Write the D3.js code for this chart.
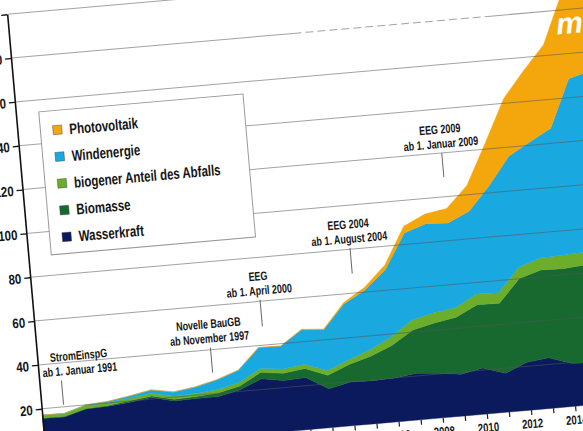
<!DOCTYPE html>
<html><head><meta charset="utf-8">
<script src="https://cdn.jsdelivr.net/npm/d3@7"></script>
<style>
html,body{margin:0;padding:0;background:#fff;}
svg{display:block;overflow:hidden;}
text{font-family:"Liberation Sans",Arial,sans-serif;font-weight:bold;fill:#151515;}
</style></head><body>
<svg id="chart" width="583" height="431"></svg>
<script>
// ---- data (TWh) ----
const years          = [1990,1991,1992,1993,1994,1995,1996,1997,1998,1999,2000,2001,2002,2003,2004,2005,2006,2007,2008,2009,2010,2011,2012,2013,2014,2015,2016];
const wasserkraft    = [15.6,15.4,18.1,18.5,19.5,20.7,18.3,18.5,18.5,20.7,24.9,23.2,23.7,17.7,19.9,19.6,20.0,21.2,20.4,19.0,21.0,17.7,21.8,23.0,19.6,19.0,20.5];
const biomasse       = [0.2,0.3,0.3,0.4,0.6,0.7,0.8,0.9,1.6,1.8,2.9,3.3,4.1,6.1,8.0,11.1,14.8,19.8,22.9,26.0,28.9,31.9,38.3,40.1,43.2,44.6,45.0];
const biogenerAbfall = [1.2,1.2,1.3,1.2,1.3,1.3,1.3,1.4,1.6,1.7,1.8,1.9,1.9,2.2,2.1,3.0,3.8,4.5,4.7,4.4,4.8,4.8,5.0,5.4,6.1,5.8,5.9];
const windenergie    = [0.1,0.1,0.3,0.6,0.9,1.5,2.0,3.0,4.5,5.5,9.5,10.5,15.8,18.7,25.5,27.2,30.7,39.7,40.6,38.6,37.8,48.9,50.7,53.0,58.0,79.2,79.9];
const photovoltaik   = [0,0,0,0,0,0,0,0,0,0,0.1,0.1,0.2,0.3,0.6,1.3,2.2,3.1,4.4,6.6,11.7,19.6,26.4,32.5,38.0,38.7,38.1];

const seriesNames  = ["Wasserkraft","Biomasse","biogener Anteil des Abfalls","Windenergie","Photovoltaik"];
const seriesValues = [wasserkraft, biomasse, biogenerAbfall, windenergie, photovoltaik];
const seriesColors = ["#0b1a5c","#17692f","#6cad2c","#1aa8e1","#f4a70c"];

const yTicks     = [20,40,60,80,100,120,140,160,180,200];
const yearTicks  = d3.range(1990, 2017);
const yearLabels = [1990,1992,1994,1996,1998,2000,2002,2004,2006,2008,2010,2012,2014,2016];

const annotationDates = [1991.0, 1997.83, 2000.25, 2004.5, 2009.0];
const annotationLine1 = ["StromEinspG","Novelle BauGB","EEG","EEG 2004","EEG 2009"];
const annotationLine2 = ["ab 1. Januar 1991","ab November 1997","ab 1. April 2000","ab 1. August 2004","ab 1. Januar 2009"];
const annotationFrom  = [21, 29.5, 48.5, 69, 109];
const annotationTo    = [32, 41, 60.7, 80.6, 120];

// ---- layout ----
const svg = d3.select("#chart");
const root = svg.append("g").attr("transform","translate(45.5,452.6) rotate(-5)");

const pxYear = 22.15, pxTWh = 2.2;
const x = d3.scaleLinear().domain([1990, 2016]).range([0, 26*pxYear]);
const y = d3.scaleLinear().domain([0, 200]).range([0, -200*pxTWh]);

// condensed-looking text: real text, compressed horizontally
function ctext(parent, tx, ty, str, size, anchor, sx){
  return parent.append("text")
    .attr("transform", `translate(${tx},${ty}) scale(${sx},1)`)
    .attr("text-anchor", anchor || "start")
    .style("font-size", size + "px")
    .text(str);
}

const table = years.map((yr,i)=>{
  const row = {year: yr};
  seriesNames.forEach((n,k)=> row[n] = seriesValues[k][i]);
  return row;
});
const stacked = d3.stack().keys(seriesNames)(table);
const area = d3.area().x(d=>x(d.data.year)).y0(d=>y(d[0])).y1(d=>y(d[1]));

root.append("g").selectAll("path").data(stacked).join("path")
  .attr("d", area)
  .attr("fill", (d,i)=>seriesColors[i])
  .attr("stroke", (d,i)=>seriesColors[i])
  .attr("stroke-width", 0.4);

// white title fragment over the PV area
root.append("text").attr("x", 546).attr("y", -372)
  .style("font-style","italic").style("font-size","30px").style("fill","#fff")
  .text("m");

// gridlines (on top of areas)
const gridEnd = 2017;
const dashFrom = 2002.8, dashTo = 2011.6;
const grid = root.append("g").attr("stroke","#555").attr("stroke-opacity",0.55).attr("stroke-width",1);
yTicks.forEach(v=>{
  if (v === 180) {
    grid.append("line").attr("x1",x(1990)).attr("x2",x(dashFrom)).attr("y1",y(v)).attr("y2",y(v));
    grid.append("line").attr("x1",x(dashFrom)).attr("x2",x(dashTo)).attr("y1",y(v)).attr("y2",y(v)).attr("stroke-dasharray","8,4");
    grid.append("line").attr("x1",x(dashTo)).attr("x2",x(gridEnd)).attr("y1",y(v)).attr("y2",y(v));
  } else {
    grid.append("line").attr("x1",x(1990)).attr("x2",x(gridEnd)).attr("y1",y(v)).attr("y2",y(v));
  }
});

// y axis
const yAxis = root.append("g")
  .call(d3.axisLeft(y).tickValues(yTicks).tickSize(6).tickPadding(3).tickSizeOuter(0));
yAxis.select(".domain").attr("stroke","#111").attr("stroke-width",1.6);
yAxis.selectAll(".tick line").attr("stroke","#111").attr("stroke-width",1.3);
yAxis.selectAll(".tick text")
  .attr("x", null).attr("dy", null)
  .attr("transform", `translate(-9,5) scale(0.82,1)`)
  .style("font-size","14px").style("font-family",null);

// x axis
const xAxis = root.append("g")
  .call(d3.axisBottom(x).tickValues(yearTicks).tickSize(5).tickPadding(4)
    .tickFormat(d=> yearLabels.includes(d) ? String(d) : ""));
xAxis.select(".domain").remove();
xAxis.selectAll(".tick line").attr("stroke","#222").attr("stroke-width",1.2);
xAxis.selectAll(".tick text")
  .attr("transform", `scale(0.76,1)`)
  .style("font-size","12.5px").style("font-family",null);

// annotations
const AS = 0.73;
const ann = root.append("g");
annotationDates.forEach((dt,i)=>{
  const lx = x(dt);
  ann.append("line").attr("x1",lx).attr("x2",lx)
    .attr("y1",y(annotationFrom[i])).attr("y2",y(annotationTo[i]))
    .attr("stroke","#666").attr("stroke-width",1);
  const b2 = y(annotationTo[i]) - 5;
  const t1 = ctext(ann, lx, b2 - 14.5, annotationLine1[i], 12.3, "middle", AS);
  const t2 = ctext(ann, lx, b2, annotationLine2[i], 12.3, "middle", AS);
  const half = AS*Math.max(t1.node().getComputedTextLength(), t2.node().getComputedTextLength())/2;
  const cx = Math.max(lx, half + 4);
  t1.attr("transform", `translate(${cx},${b2-14.5}) scale(${AS},1)`);
  t2.attr("transform", `translate(${cx},${b2}) scale(${AS},1)`);
});

// legend
const legendNames = seriesNames.slice().reverse();
const legendColors = seriesColors.slice().reverse();
const lg = root.append("g");
lg.append("rect").attr("x",23).attr("y",-340).attr("width",205).attr("height",143.5)
  .attr("fill","#fff").attr("stroke","#9a9a9a").attr("stroke-width",1);
legendNames.forEach((n,i)=>{
  const cy = -320.5 + 26.85*i;
  lg.append("rect").attr("x",35.5).attr("y",cy-4.5).attr("width",9).attr("height",9)
    .attr("fill",legendColors[i]).attr("stroke","#333").attr("stroke-width",0.4);
  ctext(lg, 52, cy+5.5, n, 15.3, "start", 0.75);
});
</script>
</body></html>
